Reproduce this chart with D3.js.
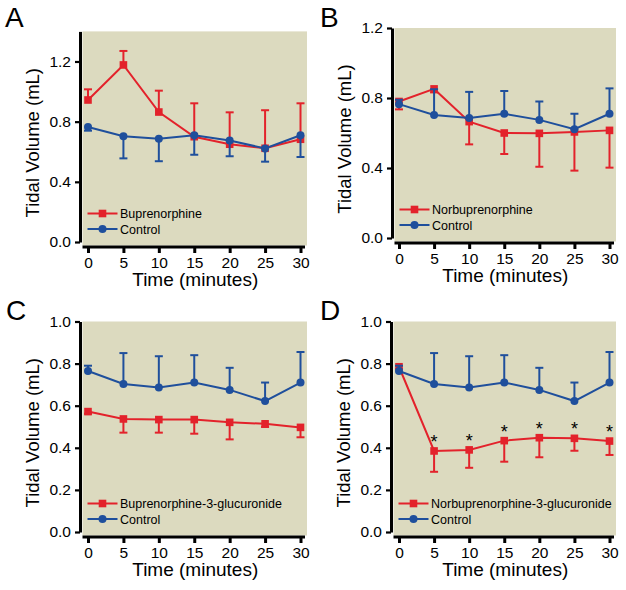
<!DOCTYPE html>
<html>
<head>
<meta charset="utf-8">
<script src="https://cdn.jsdelivr.net/npm/d3@7"></script>
<style>
  html, body { margin: 0; padding: 0; background: #ffffff; }
  svg { display: block; font-family: "Liberation Sans", Arial, Helvetica, sans-serif; }
</style>
</head>
<body>
<svg id="chart" width="626" height="590"></svg>
<script>
// ---- Data ----
const times = [0, 5, 10, 15, 20, 25, 30];

const controlMean = [0.765, 0.703, 0.686, 0.710, 0.675, 0.622, 0.710];
const controlSEM  = [0.025, 0.147, 0.149, 0.130, 0.105, 0.088, 0.145];

const buprenorphineMean = [0.944, 1.177, 0.864, 0.700, 0.650, 0.623, 0.683];
const buprenorphineSEM  = [0.071, 0.093, 0.142, 0.222, 0.212, 0.253, 0.239];

const norbuprenorphineMean = [0.780, 0.852, 0.665, 0.600, 0.598, 0.606, 0.615];
const norbuprenorphineSEM  = [0.045, 0.020, 0.130, 0.120, 0.191, 0.221, 0.213];

const b3gMean = [0.572, 0.537, 0.534, 0.534, 0.521, 0.514, 0.497];
const b3gSEM  = [0.010, 0.065, 0.062, 0.067, 0.081, 0.015, 0.047];

const n3gMean = [0.785, 0.385, 0.390, 0.434, 0.448, 0.445, 0.432];
const n3gSEM  = [0.010, 0.099, 0.085, 0.100, 0.093, 0.059, 0.066];
const n3gSignificant = [false, true, true, true, true, true, true];

const yTicksAB = [0.0, 0.4, 0.8, 1.2];
const yTicksCD = [0.0, 0.2, 0.4, 0.6, 0.8, 1.0];

const drugNames = ["Buprenorphine", "Norbuprenorphine", "Buprenorphine-3-glucuronide", "Norbuprenorphine-3-glucuronide"];
const controlName = "Control";
const panelLetters = ["A", "B", "C", "D"];
const xTitle = "Time (minutes)";
const yTitle = "Tidal Volume (mL)";

// ---- Styles ----
const RED = "#e3222b";
const BLUE = "#1f4f9c";
const BG = "#dcdabf";

// ---- Panel layout ----
const panels = [
  { letter: panelLetters[0], lx: 5,   ly: 27,  axX: 80,  y0: 242, y1: 31.4, ymax: 1.4, ticks: yTicksAB, xAxY: 247, x0: 88,  x1: 300.5,
    drug: drugNames[0], mean: buprenorphineMean, sem: buprenorphineSEM, drugDir: 1, ctrlDir: -1, sig: null },
  { letter: panelLetters[1], lx: 320, ly: 27,  axX: 392, y0: 238, y1: 28,   ymax: 1.2, ticks: yTicksAB, xAxY: 243, x0: 399, x1: 609.5,
    drug: drugNames[1], mean: norbuprenorphineMean, sem: norbuprenorphineSEM, drugDir: -1, ctrlDir: 1, sig: null },
  { letter: panelLetters[2], lx: 6,   ly: 320, axX: 80,  y0: 532, y1: 321.5, ymax: 1.0, ticks: yTicksCD, xAxY: 537, x0: 88,  x1: 300.5,
    drug: drugNames[2], mean: b3gMean, sem: b3gSEM, drugDir: -1, ctrlDir: 1, sig: null },
  { letter: panelLetters[3], lx: 320, ly: 320, axX: 391, y0: 532, y1: 321.5, ymax: 1.0, ticks: yTicksCD, xAxY: 537, x0: 399, x1: 609.5,
    drug: drugNames[3], mean: n3gMean, sem: n3gSEM, drugDir: -1, ctrlDir: 1, sig: n3gSignificant }
];

const svg = d3.select("#chart");

panels.forEach(p => {
  const g = svg.append("g");
  const x = d3.scaleLinear().domain([0, 30]).range([p.x0, p.x1]);
  const y = d3.scaleLinear().domain([0, p.ymax]).range([p.y0, p.y1]);

  // background
  g.append("rect")
    .attr("x", p.axX + 2.5).attr("y", y(p.ymax))
    .attr("width", x(30) + 6.5 - (p.axX + 2.5))
    .attr("height", p.xAxY - 1.5 - y(p.ymax))
    .attr("fill", BG);

  // Y axis
  const yAxis = d3.axisLeft(y).tickValues(p.ticks).tickSize(5).tickSizeOuter(0).tickPadding(4)
    .tickFormat(d3.format(".1f"));
  const ya = g.append("g").attr("transform", `translate(${p.axX},0)`).call(yAxis);
  ya.select(".domain").attr("stroke", "#000").attr("stroke-width", 3);
  ya.selectAll(".tick line").attr("stroke", "#000").attr("stroke-width", 2.2);
  ya.selectAll(".tick text").attr("font-size", 15.5).attr("fill", "#000")
    .attr("font-family", "'Liberation Sans', Arial, sans-serif");

  // X axis
  const xAxis = d3.axisBottom(x).tickValues(times).tickSize(6).tickSizeOuter(0).tickPadding(3.5)
    .tickFormat(d3.format("d"));
  const xa = g.append("g").attr("transform", `translate(0,${p.xAxY})`).call(xAxis);
  xa.select(".domain").remove();
  xa.append("line").attr("x1", p.axX + 2.5).attr("x2", x(30) + 4.5).attr("y1", 0).attr("y2", 0)
    .attr("stroke", "#000").attr("stroke-width", 3.2);
  xa.selectAll(".tick line").attr("stroke", "#000").attr("stroke-width", 3);
  xa.selectAll(".tick text").attr("font-size", 15.5).attr("fill", "#000")
    .attr("font-family", "'Liberation Sans', Arial, sans-serif");

  // axis titles
  g.append("text")
    .attr("x", (p.x0 + p.x1) / 2 + 1).attr("y", p.xAxY + 39)
    .attr("text-anchor", "middle").attr("font-size", 19).attr("fill", "#000")
    .text(xTitle);
  g.append("text")
    .attr("transform", `translate(${p.axX - 41},${(p.y0 + p.y1) / 2 + 6}) rotate(-90)`)
    .attr("text-anchor", "middle").attr("font-size", 18.5).attr("fill", "#000")
    .text(yTitle);

  // panel letter
  g.append("text").attr("x", p.lx).attr("y", p.ly).attr("font-size", 28).attr("fill", "#000")
    .text(p.letter);

  const drugData = times.map((t, i) => ({ t, v: p.mean[i], e: p.sem[i] }));
  const ctrlData = times.map((t, i) => ({ t, v: controlMean[i], e: controlSEM[i] }));

  function drawSeries(data, color, dir, shape) {
    const s = g.append("g");
    // error bars (one-sided)
    const eb = s.selectAll("g.eb").data(data).join("g");
    eb.append("line")
      .attr("x1", d => x(d.t)).attr("x2", d => x(d.t))
      .attr("y1", d => y(d.v)).attr("y2", d => y(d.v + dir * d.e))
      .attr("stroke", color).attr("stroke-width", 2);
    eb.append("line")
      .attr("x1", d => x(d.t) - 4).attr("x2", d => x(d.t) + 4)
      .attr("y1", d => y(d.v + dir * d.e)).attr("y2", d => y(d.v + dir * d.e))
      .attr("stroke", color).attr("stroke-width", 2);
    // line
    s.append("path").datum(data)
      .attr("d", d3.line().x(d => x(d.t)).y(d => y(d.v)))
      .attr("fill", "none").attr("stroke", color).attr("stroke-width", 2);
    // markers
    if (shape === "square") {
      s.selectAll("rect.m").data(data).join("rect")
        .attr("x", d => x(d.t) - 3.8).attr("y", d => y(d.v) - 3.8)
        .attr("width", 7.6).attr("height", 7.6).attr("fill", color);
    } else {
      s.selectAll("circle.m").data(data).join("circle")
        .attr("cx", d => x(d.t)).attr("cy", d => y(d.v)).attr("r", 4).attr("fill", color);
    }
  }

  drawSeries(drugData, RED, p.drugDir, "square");
  drawSeries(ctrlData, BLUE, p.ctrlDir, "circle");

  // significance asterisks
  if (p.sig) {
    g.selectAll("text.sig").data(drugData.filter((d, i) => p.sig[i])).join("text")
      .attr("x", d => x(d.t)).attr("y", d => y(d.v) - 3)
      .attr("text-anchor", "middle").attr("font-size", 18).attr("fill", "#000")
      .text("*");
  }

  // legend
  const lgX = p.axX + 7.5;
  const rows = [
    { name: p.drug, color: RED, shape: "square", yy: p.y0 - 28.5 },
    { name: controlName, color: BLUE, shape: "circle", yy: p.y0 - 13 }
  ];
  const lg = g.append("g");
  rows.forEach(r => {
    lg.append("line").attr("x1", lgX).attr("x2", lgX + 30).attr("y1", r.yy).attr("y2", r.yy)
      .attr("stroke", r.color).attr("stroke-width", 2);
    if (r.shape === "square") {
      lg.append("rect").attr("x", lgX + 15 - 3.8).attr("y", r.yy - 3.8).attr("width", 7.6).attr("height", 7.6)
        .attr("fill", r.color);
    } else {
      lg.append("circle").attr("cx", lgX + 15).attr("cy", r.yy).attr("r", 4).attr("fill", r.color);
    }
    lg.append("text").attr("x", lgX + 32.5).attr("y", r.yy + 4.5).attr("font-size", 12.5).attr("fill", "#000")
      .text(r.name);
  });
});
</script>
</body>
</html>
